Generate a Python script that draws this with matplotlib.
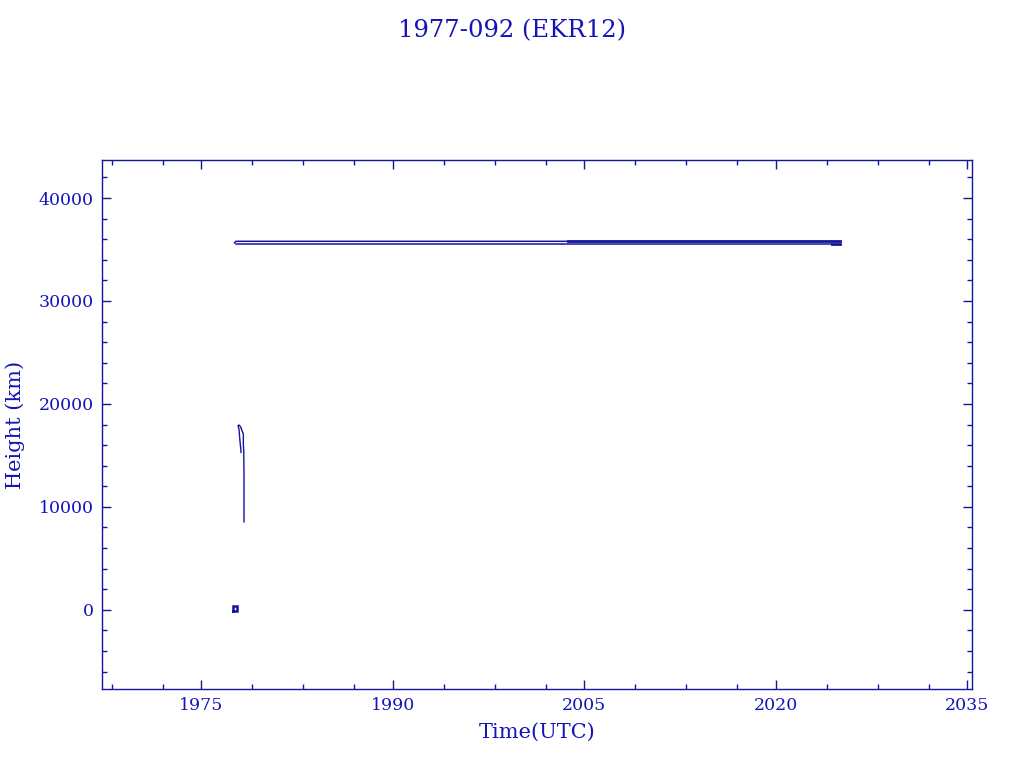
import matplotlib
matplotlib.use("Agg")
import matplotlib.pyplot as plt
from matplotlib.ticker import FixedLocator

# ---- data ----
title_text = "1977-092 (EKR12)"
x_major = [1975, 1990, 2005, 2020, 2035]
x_minor = [1968, 1972, 1979, 1983, 1987, 1994, 1998, 2002, 2009, 2013, 2017, 2024, 2028, 2032]
y_major = [0, 10000, 20000, 30000, 40000]
y_minor = [-6000, -4000, -2000, 2000, 4000, 6000, 8000, 12000, 14000, 16000, 18000,
           22000, 24000, 26000, 28000, 32000, 34000, 36000, 38000, 42000]

# small loop near launch (parking orbit)
launch_t = [1977.48, 1977.84, 1977.84, 1977.48, 1977.48]
launch_h = [-150, -150, 330, 330, -150]

# transfer-orbit decay branch
gto_t = [1978.13, 1978.10, 1978.08, 1978.02, 1977.97, 1977.89, 1977.97, 1978.10,
         1978.21, 1978.31, 1978.31, 1978.34, 1978.36, 1978.36]
gto_h = [15290, 15780, 15940, 16750, 17560, 17880, 17950, 17780,
         17390, 17070, 16100, 15450, 13350, 8540]

# geostationary apogee / perigee
apo_t = [1977.62, 1977.72, 2003.70]
apo_h = [35650, 35800, 35800]
apo2_t = [2003.70, 2025.05]
apo2_h = [35860, 35860]
per_t = [1977.72, 2024.40]
per_h = [35520, 35520]
per2_t = [2024.40, 2025.05]
per2_h = [35540, 35540]

line_c = "#14149c"
text_c = "#1414b8"

fig = plt.figure(figsize=(10.24, 7.68), dpi=100)
ax = fig.add_axes([102/1024, 1-689/768, (972-102)/1024, (689-160)/768])

ax.plot(launch_t, launch_h, color=line_c, lw=1.8, solid_joinstyle="miter")
ax.plot(gto_t, gto_h, color=line_c, lw=1.0)
ax.plot(apo_t, apo_h, color=line_c, lw=1.1)
ax.plot(apo2_t, apo2_h, color=line_c, lw=2.0)
ax.plot(per_t, per_h, color=line_c, lw=1.1)
ax.plot(per2_t, per2_h, color=line_c, lw=2.0)

ax.set_xlim(1967.24, 2035.38)
ax.set_ylim(-7700, 43700)

ax.xaxis.set_major_locator(FixedLocator(x_major))
ax.xaxis.set_minor_locator(FixedLocator(x_minor))
ax.yaxis.set_major_locator(FixedLocator(y_major))
ax.yaxis.set_minor_locator(FixedLocator(y_minor))
ax.set_xticklabels([str(v) for v in x_major])
ax.set_yticklabels([str(v) for v in y_major])

for s in ax.spines.values():
    s.set_color(line_c)
    s.set_linewidth(1.0)

ax.tick_params(which="both", direction="in", top=True, right=True, color=line_c,
               labelcolor=text_c, width=1.0)
ax.tick_params(which="major", length=6.5, labelsize=12.5, pad=6)
ax.tick_params(which="minor", length=3.3)
for lab in ax.get_xticklabels() + ax.get_yticklabels():
    lab.set_family("DejaVu Serif")

fig.text(512/1024, 1-31/768, title_text, ha="center", va="center",
         fontsize=17.5, color=text_c, family="DejaVu Serif")
fig.text(537/1024, 1-732/768, "Time(UTC)", ha="center", va="center",
         fontsize=15, color=text_c, family="DejaVu Serif")
fig.text(15/1024, 1-425/768, "Height (km)", ha="center", va="center", rotation=90,
         fontsize=15, color=text_c, family="DejaVu Serif")

fig.savefig("out.png", dpi=100, facecolor="white")
